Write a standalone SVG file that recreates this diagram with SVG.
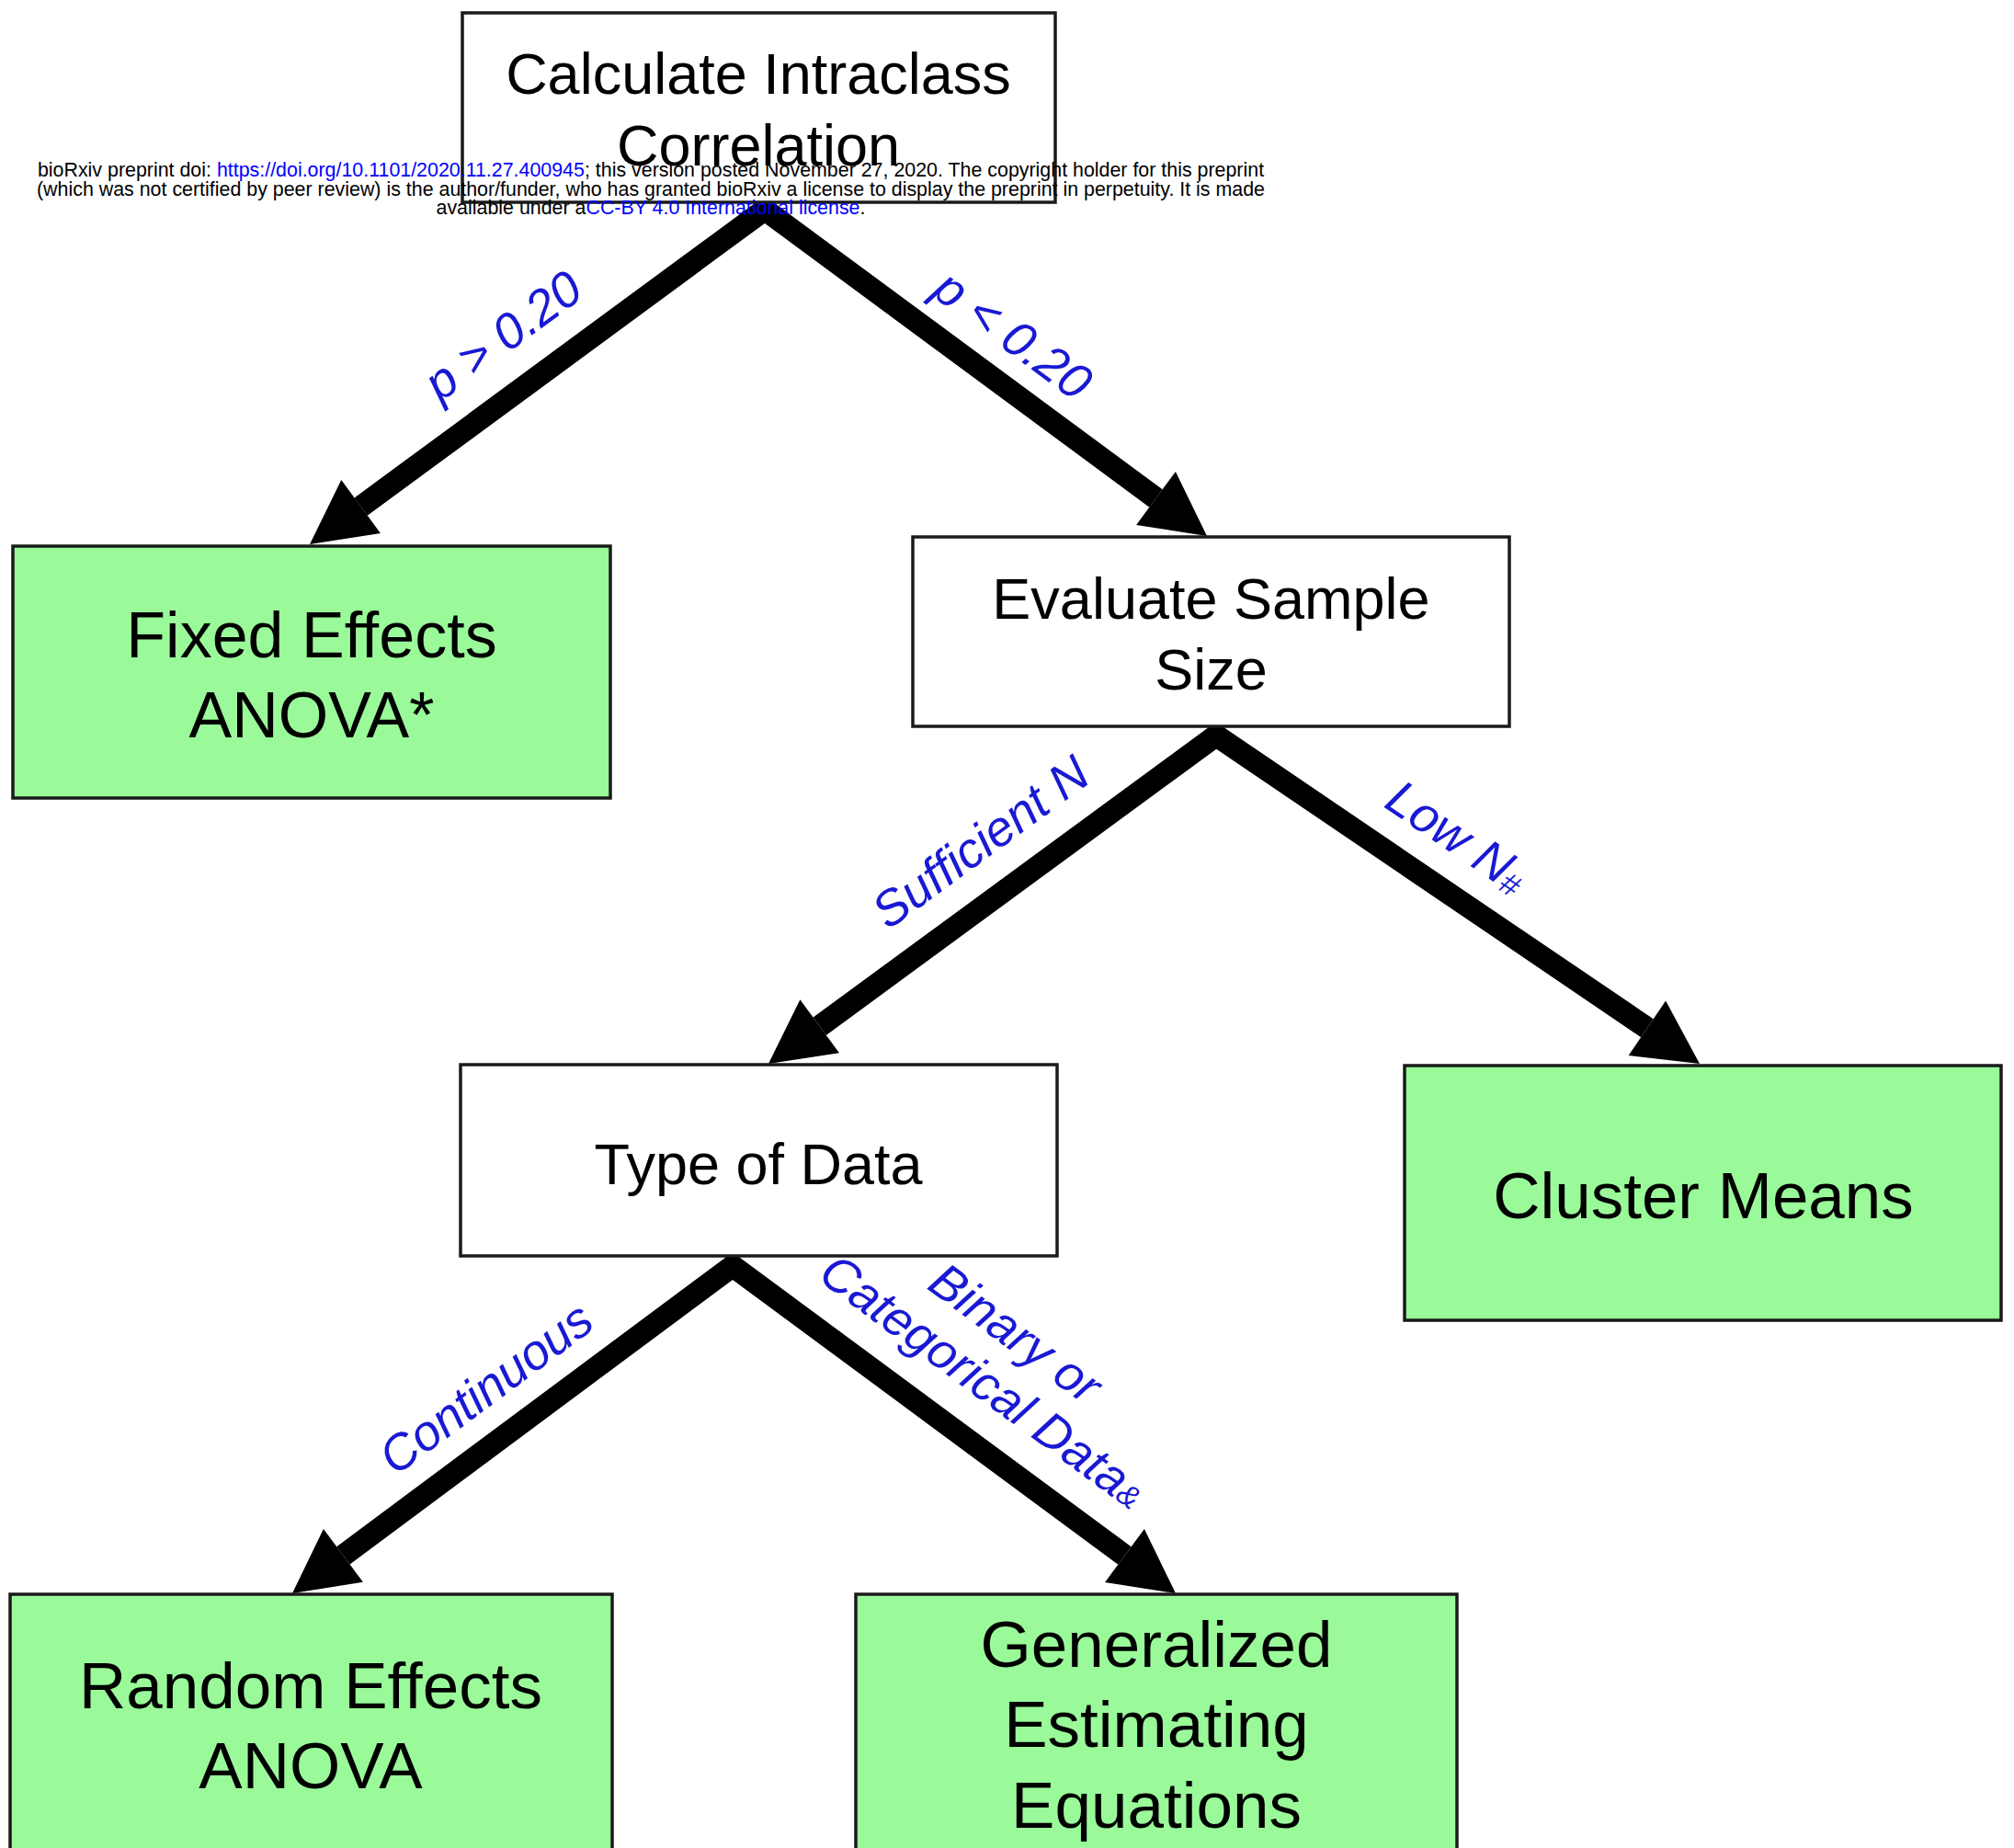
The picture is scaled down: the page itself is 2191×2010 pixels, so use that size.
<svg xmlns="http://www.w3.org/2000/svg" width="2191" height="2010" viewBox="0 0 2191 2010">
  <style>
    .box { stroke: #1a1a1a; stroke-width: 3.5; }
    .plain { fill: #ffffff; }
    .leaf { fill: #9afa9a; }
    .ntext { font-family: "Liberation Sans", Arial, sans-serif; fill: #000000; text-anchor: middle; }
    .edge { fill: none; stroke: #000000; stroke-width: 24; stroke-linejoin: miter; stroke-miterlimit: 10; }
    .head { fill: #000000; }
    .lbl { font-family: "Liberation Sans", Arial, sans-serif; font-style: italic; font-size: 54px; fill: #1919d4; text-anchor: middle; }
    .sup { font-size: 34px; }
    .wm { font-family: "Liberation Sans", Arial, sans-serif; font-size: 21.4px; fill: #000000; text-anchor: middle; }
    .wm .link { fill: #0000ff; }
  </style>

  <rect x="0" y="0" width="2191" height="2010" fill="#ffffff"/>

  <!-- connectors: each decision splits into two thick arrows -->
  <g id="connectors">
    <path class="edge" d="M392.6,551.1 L832,228 L1257.5,542"/>
    <polygon class="head" points="337,592 413.9,580.1 371.3,522.1"/>
    <polygon class="head" points="1313,583 1236.1,571 1278.9,513"/>

    <path class="edge" d="M891.7,1116.2 L1323,800 L1791.9,1118.2"/>
    <polygon class="head" points="836,1157 913,1145.2 870.4,1087.2"/>
    <polygon class="head" points="1849,1157 1771.7,1148 1812.1,1088.4"/>

    <path class="edge" d="M373.4,1691.8 L797,1377 L1223.5,1692"/>
    <polygon class="head" points="318,1733 394.9,1720.7 351.9,1662.9"/>
    <polygon class="head" points="1279,1733 1202.1,1721 1244.9,1663"/>
  </g>

  <!-- branch labels -->
  <g id="edge-labels">
    <text class="lbl" transform="translate(550,369) rotate(-36.3)" y="13.5">p &gt; 0.20</text>
    <text class="lbl" transform="translate(1099,368) rotate(36.4)" y="13.5">p &lt; 0.20</text>
    <text class="lbl" transform="translate(1066,915) rotate(-36.2)" y="19.5">Sufficient N</text>
    <text class="lbl" transform="translate(1586,909) rotate(34.2)" y="19.5">Low N<tspan class="sup" dy="4">#</tspan></text>
    <text class="lbl" transform="translate(528,1509) rotate(-36.6)" y="19.5">Continuous</text>
    <text class="lbl" transform="translate(1102,1454) rotate(36.4)" y="13.5">Binary or</text>
    <text class="lbl" transform="translate(1067,1506) rotate(36.4)" y="13.5">Categorical Data<tspan class="sup">&amp;</tspan></text>
  </g>

  <g id="node-icc">
    <rect class="box plain" x="503" y="14" width="645" height="206"/>
    <text class="ntext" x="825" y="102" font-size="63">Calculate Intraclass</text>
    <text class="ntext" x="825" y="180" font-size="63">Correlation</text>
  </g>

  <g id="node-fixed">
    <rect class="box leaf" x="14" y="594" width="650" height="274"/>
    <text class="ntext" x="339" y="715" font-size="70">Fixed Effects</text>
    <text class="ntext" x="339" y="802" font-size="70">ANOVA*</text>
  </g>

  <g id="node-sample">
    <rect class="box plain" x="993" y="584" width="649" height="206"/>
    <text class="ntext" x="1317.5" y="673" font-size="63">Evaluate Sample</text>
    <text class="ntext" x="1317.5" y="750" font-size="63">Size</text>
  </g>

  <g id="node-datatype">
    <rect class="box plain" x="501" y="1158" width="649" height="208"/>
    <text class="ntext" x="825" y="1288" font-size="63">Type of Data</text>
  </g>

  <g id="node-cluster">
    <rect class="box leaf" x="1528" y="1159" width="649" height="277"/>
    <text class="ntext" x="1853" y="1325" font-size="71">Cluster Means</text>
  </g>

  <g id="node-random">
    <rect class="box leaf" x="11" y="1734" width="655" height="300"/>
    <text class="ntext" x="338" y="1858" font-size="71">Random Effects</text>
    <text class="ntext" x="338" y="1945" font-size="71">ANOVA</text>
  </g>

  <g id="node-gee">
    <rect class="box leaf" x="931" y="1734" width="654" height="300"/>
    <text class="ntext" x="1258" y="1813" font-size="71">Generalized</text>
    <text class="ntext" x="1258" y="1900" font-size="71">Estimating</text>
    <text class="ntext" x="1258" y="1988" font-size="71">Equations</text>
  </g>

  <!-- preprint notice printed over the figure -->
  <g id="notice">
    <text class="wm" x="708" y="192">bioRxiv preprint doi: <tspan class="link">https://doi.org/10.1101/2020.11.27.400945</tspan>; this version posted November 27, 2020. The copyright holder for this preprint</text>
    <text class="wm" x="708" y="213">(which was not certified by peer review) is the author/funder, who has granted bioRxiv a license to display the preprint in perpetuity. It is made</text>
    <text class="wm" x="708" y="233">available under a<tspan class="link">CC-BY 4.0 International license</tspan>.</text>
  </g>
</svg>
